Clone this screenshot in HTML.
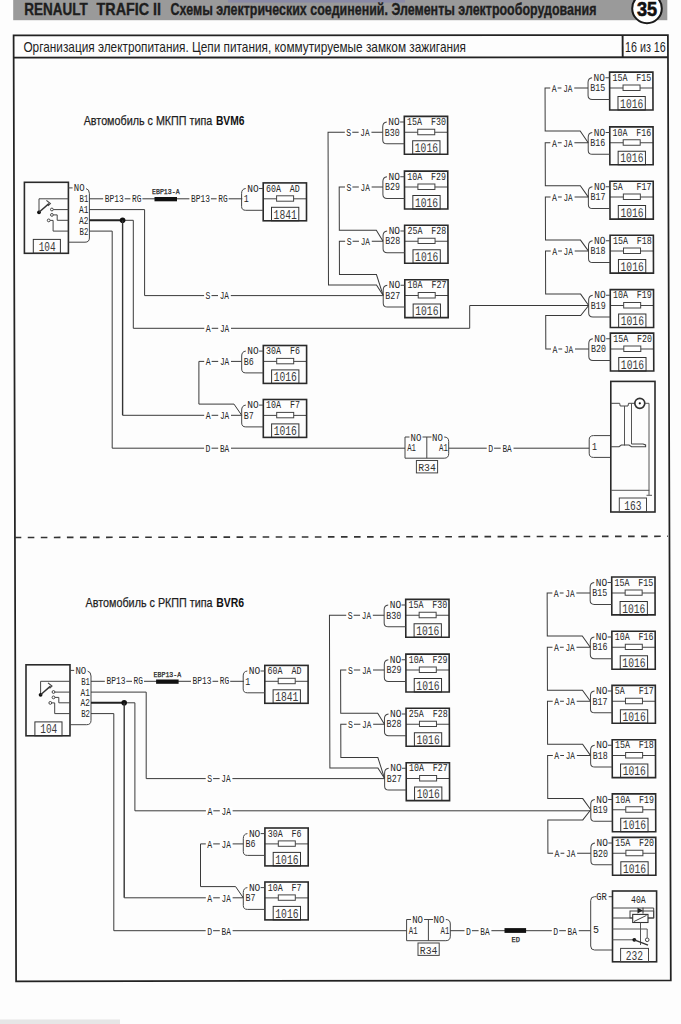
<!DOCTYPE html>
<html><head><meta charset="utf-8"><style>html,body{margin:0;padding:0;background:#fdfdfd;}body{width:681px;height:1024px;position:relative;overflow:hidden;font-family:"Liberation Sans", sans-serif;}</style></head><body>
<svg width="681" height="1024" viewBox="0 0 681 1024" style="position:absolute;left:0;top:0;font-family:'Liberation Sans', sans-serif">
<rect x="0" y="0" width="681" height="1024" fill="#fdfdfd"/>
<rect x="13.2" y="0" width="654.1" height="20.2" fill="#9a9a9a"/>
<rect x="228" y="0" width="177" height="2.6" fill="#8a8aa6"/>
<text x="24.3" y="15.2" font-size="16.2" font-weight="bold" fill="#1e1e1e" text-anchor="start" stroke="#1e1e1e" stroke-width="0.35" textLength="63.5" lengthAdjust="spacingAndGlyphs">RENAULT</text>
<text x="96.6" y="15.2" font-size="16.2" font-weight="bold" fill="#1e1e1e" text-anchor="start" stroke="#1e1e1e" stroke-width="0.35" textLength="64.5" lengthAdjust="spacingAndGlyphs">TRAFIC II</text>
<text x="170.6" y="15.2" font-size="16.2" font-weight="bold" fill="#1e1e1e" text-anchor="start" stroke="#1e1e1e" stroke-width="0.35" textLength="425.8" lengthAdjust="spacingAndGlyphs">Схемы электрических соединений. Элементы электрооборудования</text>
<circle cx="647" cy="8.4" r="14.8" fill="#fff" stroke="#1a1a1a" stroke-width="2"/>
<text x="636.9" y="16.4" font-size="20.5" font-weight="bold" fill="#111" text-anchor="start" stroke="#111" stroke-width="0.6" textLength="20.2" lengthAdjust="spacingAndGlyphs">35</text>
<polygon points="13.6,35.4 667.9,35.2 670.8,980.4 16.1,981.3" fill="none" stroke="#222" stroke-width="1.75"/>
<line x1="13.7" y1="57.6" x2="668" y2="57.3" stroke="#222" stroke-width="1.9"/>
<line x1="622.6" y1="35.3" x2="622.7" y2="57.5" stroke="#222" stroke-width="1.9"/>
<text x="23.4" y="52.2" font-size="14.2" font-weight="normal" fill="#1e1e1e" text-anchor="start" textLength="442.6" lengthAdjust="spacingAndGlyphs">Организация электропитания. Цепи питания, коммутируемые замком зажигания</text>
<text x="625" y="51.6" font-size="14.2" font-weight="normal" fill="#1e1e1e" text-anchor="start" textLength="40.8" lengthAdjust="spacingAndGlyphs">16 из 16</text>
<line x1="14.7" y1="537.5" x2="668" y2="536.3" stroke="#333" stroke-width="1.6" stroke-dasharray="6.6,6.45"/>
<text x="83.7" y="124.8" font-size="13.4" font-weight="normal" fill="#1e1e1e" text-anchor="start" stroke="#1e1e1e" stroke-width="0.25" textLength="128.6" lengthAdjust="spacingAndGlyphs">Автомобиль с МКПП типа</text>
<text x="215.9" y="124.8" font-size="13.4" font-weight="bold" fill="#111" text-anchor="start" textLength="28.6" lengthAdjust="spacingAndGlyphs">BVM6</text>
<rect x="24.4" y="182.3" width="44" height="71" fill="none" stroke="#2a2a2a" stroke-width="1.6"/>
<rect x="33.3" y="239.4" width="27.1" height="13.9" fill="none" stroke="#333" stroke-width="1"/>
<text x="47.2" y="250.9" font-size="13.23" font-weight="normal" fill="#3a3a3a" text-anchor="middle" textLength="17" lengthAdjust="spacingAndGlyphs" font-family="Liberation Mono">104</text>
<text x="73.8" y="191.3" font-size="10.6" font-weight="normal" fill="#262626" text-anchor="start" textLength="10.8" lengthAdjust="spacingAndGlyphs" font-family="Liberation Mono">NO</text>
<text x="79.6" y="202.2" font-size="10.6" font-weight="normal" fill="#262626" text-anchor="start" textLength="8.8" lengthAdjust="spacingAndGlyphs" font-family="Liberation Mono">B1</text>
<text x="79" y="213" font-size="10.6" font-weight="normal" fill="#262626" text-anchor="start" textLength="9.4" lengthAdjust="spacingAndGlyphs" font-family="Liberation Mono">A1</text>
<text x="79" y="223.7" font-size="10.6" font-weight="normal" fill="#262626" text-anchor="start" textLength="9.4" lengthAdjust="spacingAndGlyphs" font-family="Liberation Mono">A2</text>
<text x="79.6" y="234.5" font-size="10.6" font-weight="normal" fill="#262626" text-anchor="start" textLength="8.8" lengthAdjust="spacingAndGlyphs" font-family="Liberation Mono">B2</text>
<line x1="68.4" y1="187.9" x2="72.6" y2="187.9" stroke="#444" stroke-width="1"/>
<path d="M86,188.6 Q89.4,189.3 89.4,193.5 L89.4,238 Q89.4,242.2 85,242.2 L68.4,242.2" fill="none" stroke="#444" stroke-width="1"/>
<line x1="39" y1="198.8" x2="68.4" y2="198.8" stroke="#444" stroke-width="1"/>
<line x1="39" y1="198.8" x2="39" y2="212.3" stroke="#444" stroke-width="1"/>
<circle cx="39" cy="212.3" r="1.9" fill="#111"/>
<line x1="39" y1="212.3" x2="48.9" y2="203.6" stroke="#333" stroke-width="1.4"/>
<polyline points="46.4,200.4 50.4,203.6 48,205.8" fill="none" stroke="#444" stroke-width="1.1" stroke-linejoin="miter"/>
<circle cx="51.9" cy="209.5" r="1.4" fill="#fff" stroke="#444" stroke-width="1"/>
<line x1="53.3" y1="209.6" x2="68.4" y2="209.6" stroke="#444" stroke-width="1"/>
<circle cx="51.9" cy="214.9" r="1.4" fill="#fff" stroke="#444" stroke-width="1"/>
<polyline points="53.3,214.9 57.2,214.9 57.2,220.3 68.4,220.3" fill="none" stroke="#444" stroke-width="1" stroke-linejoin="miter"/>
<circle cx="48.7" cy="220.4" r="1.4" fill="#fff" stroke="#444" stroke-width="1"/>
<polyline points="50.1,220.4 53.1,220.4 53.1,231.1 68.4,231.1" fill="none" stroke="#444" stroke-width="1" stroke-linejoin="miter"/>
<line x1="89.4" y1="198.8" x2="242.3" y2="198.8" stroke="#3a3a3a" stroke-width="1"/>
<rect x="103.2" y="195.3" width="21.5" height="7" fill="#fff"/>
<text x="104.8" y="201.9" font-size="10.6" font-weight="normal" fill="#262626" text-anchor="start" textLength="19" lengthAdjust="spacingAndGlyphs" font-family="Liberation Mono">BP13</text>
<rect x="130.4" y="195.3" width="12" height="7" fill="#fff"/>
<text x="132" y="201.9" font-size="10.6" font-weight="normal" fill="#262626" text-anchor="start" textLength="9.4" lengthAdjust="spacingAndGlyphs" font-family="Liberation Mono">RG</text>
<rect x="189.4" y="195.3" width="21.5" height="7" fill="#fff"/>
<text x="191" y="201.9" font-size="10.6" font-weight="normal" fill="#262626" text-anchor="start" textLength="19" lengthAdjust="spacingAndGlyphs" font-family="Liberation Mono">BP13</text>
<rect x="216.6" y="195.3" width="12" height="7" fill="#fff"/>
<text x="218.2" y="201.9" font-size="10.6" font-weight="normal" fill="#262626" text-anchor="start" textLength="9.4" lengthAdjust="spacingAndGlyphs" font-family="Liberation Mono">RG</text>
<rect x="154.5" y="197" width="22.5" height="4.3" fill="#111"/>
<text x="152" y="194" font-size="7.6" font-weight="normal" fill="#222" text-anchor="start" stroke="#222" stroke-width="0.25" textLength="27.6" lengthAdjust="spacingAndGlyphs" font-family="Liberation Mono">EBP13-A</text>
<line x1="263.2" y1="198.8" x2="306.5" y2="198.8" stroke="#444" stroke-width="1"/>
<rect x="276.6" y="195.8" width="17" height="5.4" fill="#fff" stroke="#444" stroke-width="1"/>
<rect x="271.5" y="207.3" width="27.3" height="13.5" fill="none" stroke="#333" stroke-width="1"/>
<text x="285.2" y="218.5" font-size="13.23" font-weight="normal" fill="#3a3a3a" text-anchor="middle" textLength="23.2" lengthAdjust="spacingAndGlyphs" font-family="Liberation Mono">1841</text>
<rect x="263.2" y="182.9" width="43.3" height="37.9" fill="none" stroke="#2a2a2a" stroke-width="1.6"/>
<text x="266" y="191.6" font-size="10.81" font-weight="normal" fill="#262626" text-anchor="start" textLength="15" lengthAdjust="spacingAndGlyphs" font-family="Liberation Mono">60A</text>
<text x="289.8" y="191.6" font-size="10.81" font-weight="normal" fill="#262626" text-anchor="start" textLength="10" lengthAdjust="spacingAndGlyphs" font-family="Liberation Mono">AD</text>
<text x="247.2" y="191.6" font-size="10.81" font-weight="normal" fill="#262626" text-anchor="start" textLength="11.4" lengthAdjust="spacingAndGlyphs" font-family="Liberation Mono">NO</text>
<line x1="259" y1="188.5" x2="263.2" y2="188.5" stroke="#444" stroke-width="1"/>
<path d="M245.7,188.5 Q241.6,188.9 241.6,193.4 L241.6,206.4 Q241.6,210.3 245.7,210.3 L263.2,210.3" fill="none" stroke="#444" stroke-width="1"/>
<text x="243.7" y="202.1" font-size="10.81" font-weight="normal" fill="#262626" text-anchor="start" textLength="5" lengthAdjust="spacingAndGlyphs" font-family="Liberation Mono">1</text>
<polyline points="89.4,209.6 144.6,209.6 144.6,295.6 382.7,295.6" fill="none" stroke="#3a3a3a" stroke-width="1" stroke-linejoin="miter"/>
<rect x="204.1" y="291.8" width="7.4" height="7.6" fill="#fff"/>
<rect x="218" y="291.8" width="12.8" height="7.6" fill="#fff"/>
<text x="205.6" y="299.4" font-size="10.39" font-weight="normal" fill="#262626" text-anchor="start" textLength="4.9" lengthAdjust="spacingAndGlyphs" font-family="Liberation Mono">S</text>
<text x="219.7" y="299.4" font-size="10.39" font-weight="normal" fill="#262626" text-anchor="start" textLength="9.3" lengthAdjust="spacingAndGlyphs" font-family="Liberation Mono">JA</text>
<line x1="89.4" y1="220.3" x2="122.6" y2="220.3" stroke="#222" stroke-width="2"/>
<polyline points="122.6,220.3 133.3,220.3 133.3,328.3" fill="none" stroke="#3a3a3a" stroke-width="1" stroke-linejoin="miter"/>
<circle cx="122.6" cy="220.3" r="2.8" fill="#111"/>
<line x1="122.6" y1="220.3" x2="122.6" y2="415.3" stroke="#333" stroke-width="1.4"/>
<line x1="122.6" y1="415.3" x2="241.7" y2="415.3" stroke="#3a3a3a" stroke-width="1"/>
<rect x="204.2" y="411.5" width="7.4" height="7.6" fill="#fff"/>
<rect x="218.2" y="411.5" width="12.8" height="7.6" fill="#fff"/>
<text x="205.7" y="419.1" font-size="10.39" font-weight="normal" fill="#262626" text-anchor="start" textLength="4.9" lengthAdjust="spacingAndGlyphs" font-family="Liberation Mono">A</text>
<text x="219.9" y="419.1" font-size="10.39" font-weight="normal" fill="#262626" text-anchor="start" textLength="9.3" lengthAdjust="spacingAndGlyphs" font-family="Liberation Mono">JA</text>
<polyline points="241.7,361.4 198.9,361.4 198.9,404.1 234,404.1 241.7,415.3" fill="none" stroke="#3a3a3a" stroke-width="1" stroke-linejoin="miter"/>
<rect x="204.2" y="357.6" width="7.4" height="7.6" fill="#fff"/>
<rect x="218.2" y="357.6" width="12.8" height="7.6" fill="#fff"/>
<text x="205.7" y="365.2" font-size="10.39" font-weight="normal" fill="#262626" text-anchor="start" textLength="4.9" lengthAdjust="spacingAndGlyphs" font-family="Liberation Mono">A</text>
<text x="219.9" y="365.2" font-size="10.39" font-weight="normal" fill="#262626" text-anchor="start" textLength="9.3" lengthAdjust="spacingAndGlyphs" font-family="Liberation Mono">JA</text>
<line x1="263.3" y1="361.4" x2="306.6" y2="361.4" stroke="#444" stroke-width="1"/>
<rect x="276.7" y="358.4" width="17" height="5.4" fill="#fff" stroke="#444" stroke-width="1"/>
<rect x="271.6" y="369.9" width="27.3" height="13.5" fill="none" stroke="#333" stroke-width="1"/>
<text x="285.3" y="381.1" font-size="13.23" font-weight="normal" fill="#3a3a3a" text-anchor="middle" textLength="23.2" lengthAdjust="spacingAndGlyphs" font-family="Liberation Mono">1016</text>
<rect x="263.3" y="345.5" width="43.3" height="37.9" fill="none" stroke="#2a2a2a" stroke-width="1.6"/>
<text x="266.1" y="354.2" font-size="10.81" font-weight="normal" fill="#262626" text-anchor="start" textLength="15" lengthAdjust="spacingAndGlyphs" font-family="Liberation Mono">30A</text>
<text x="289.9" y="354.2" font-size="10.81" font-weight="normal" fill="#262626" text-anchor="start" textLength="10" lengthAdjust="spacingAndGlyphs" font-family="Liberation Mono">F6</text>
<text x="247.3" y="354.2" font-size="10.81" font-weight="normal" fill="#262626" text-anchor="start" textLength="11.4" lengthAdjust="spacingAndGlyphs" font-family="Liberation Mono">NO</text>
<line x1="259.1" y1="351.1" x2="263.3" y2="351.1" stroke="#444" stroke-width="1"/>
<path d="M245.8,351.1 Q241.7,351.5 241.7,356 L241.7,369 Q241.7,372.9 245.8,372.9 L263.3,372.9" fill="none" stroke="#444" stroke-width="1"/>
<text x="243.8" y="364.7" font-size="10.81" font-weight="normal" fill="#262626" text-anchor="start" textLength="10" lengthAdjust="spacingAndGlyphs" font-family="Liberation Mono">B6</text>
<line x1="263.3" y1="415.4" x2="306.6" y2="415.4" stroke="#444" stroke-width="1"/>
<rect x="276.7" y="412.4" width="17" height="5.4" fill="#fff" stroke="#444" stroke-width="1"/>
<rect x="271.6" y="423.9" width="27.3" height="13.5" fill="none" stroke="#333" stroke-width="1"/>
<text x="285.3" y="435.1" font-size="13.23" font-weight="normal" fill="#3a3a3a" text-anchor="middle" textLength="23.2" lengthAdjust="spacingAndGlyphs" font-family="Liberation Mono">1016</text>
<rect x="263.3" y="399.5" width="43.3" height="37.9" fill="none" stroke="#2a2a2a" stroke-width="1.6"/>
<text x="266.1" y="408.2" font-size="10.81" font-weight="normal" fill="#262626" text-anchor="start" textLength="15" lengthAdjust="spacingAndGlyphs" font-family="Liberation Mono">10A</text>
<text x="289.9" y="408.2" font-size="10.81" font-weight="normal" fill="#262626" text-anchor="start" textLength="10" lengthAdjust="spacingAndGlyphs" font-family="Liberation Mono">F7</text>
<text x="247.3" y="408.2" font-size="10.81" font-weight="normal" fill="#262626" text-anchor="start" textLength="11.4" lengthAdjust="spacingAndGlyphs" font-family="Liberation Mono">NO</text>
<line x1="259.1" y1="405.1" x2="263.3" y2="405.1" stroke="#444" stroke-width="1"/>
<path d="M245.8,405.1 Q241.7,405.5 241.7,410 L241.7,423 Q241.7,426.9 245.8,426.9 L263.3,426.9" fill="none" stroke="#444" stroke-width="1"/>
<text x="243.8" y="418.7" font-size="10.81" font-weight="normal" fill="#262626" text-anchor="start" textLength="10" lengthAdjust="spacingAndGlyphs" font-family="Liberation Mono">B7</text>
<polyline points="89.4,231.1 112.2,231.1 112.2,448.2 405,448.2" fill="none" stroke="#3a3a3a" stroke-width="1" stroke-linejoin="miter"/>
<rect x="204.1" y="444.4" width="7.4" height="7.6" fill="#fff"/>
<rect x="218.2" y="444.4" width="12.8" height="7.6" fill="#fff"/>
<text x="205.6" y="452" font-size="10.39" font-weight="normal" fill="#262626" text-anchor="start" textLength="4.9" lengthAdjust="spacingAndGlyphs" font-family="Liberation Mono">D</text>
<text x="219.9" y="452" font-size="10.39" font-weight="normal" fill="#262626" text-anchor="start" textLength="9.3" lengthAdjust="spacingAndGlyphs" font-family="Liberation Mono">BA</text>
<path d="M409.5,437 L405,437 L405,458.2 L444.2,458.2 Q448.7,458.2 448.7,453.7 L448.7,441.5 Q448.7,437 444.2,437" fill="none" stroke="#444" stroke-width="1"/>
<line x1="426.8" y1="437" x2="426.8" y2="458.2" stroke="#444" stroke-width="1"/>
<line x1="422.5" y1="437" x2="431.5" y2="437" stroke="#444" stroke-width="1"/>
<text x="410.6" y="440.6" font-size="10.6" font-weight="normal" fill="#262626" text-anchor="start" textLength="10.8" lengthAdjust="spacingAndGlyphs" font-family="Liberation Mono">NO</text>
<text x="432" y="440.6" font-size="10.6" font-weight="normal" fill="#262626" text-anchor="start" textLength="10.8" lengthAdjust="spacingAndGlyphs" font-family="Liberation Mono">NO</text>
<text x="407.2" y="451" font-size="10.6" font-weight="normal" fill="#262626" text-anchor="start" textLength="8.8" lengthAdjust="spacingAndGlyphs" font-family="Liberation Mono">A1</text>
<text x="439" y="451" font-size="10.6" font-weight="normal" fill="#262626" text-anchor="start" textLength="8.8" lengthAdjust="spacingAndGlyphs" font-family="Liberation Mono">A1</text>
<rect x="416.4" y="460.5" width="21.2" height="12.4" fill="none" stroke="#444" stroke-width="1"/>
<text x="427" y="471.3" font-size="11" font-weight="normal" fill="#333" text-anchor="middle" textLength="17.6" lengthAdjust="spacingAndGlyphs" font-family="Liberation Mono">R34</text>
<g transform="matrix(1,0,0.0029,1,-0.34,0)">
<line x1="404.3" y1="132.3" x2="447.6" y2="132.3" stroke="#444" stroke-width="1"/>
<rect x="417.7" y="129.3" width="17" height="5.4" fill="#fff" stroke="#444" stroke-width="1"/>
<rect x="412.6" y="140.8" width="27.3" height="13.5" fill="none" stroke="#333" stroke-width="1"/>
<text x="426.3" y="152" font-size="13.23" font-weight="normal" fill="#3a3a3a" text-anchor="middle" textLength="23.2" lengthAdjust="spacingAndGlyphs" font-family="Liberation Mono">1016</text>
<rect x="404.3" y="116.4" width="43.3" height="37.9" fill="none" stroke="#2a2a2a" stroke-width="1.6"/>
<text x="407.1" y="125.1" font-size="10.81" font-weight="normal" fill="#262626" text-anchor="start" textLength="15" lengthAdjust="spacingAndGlyphs" font-family="Liberation Mono">15A</text>
<text x="430.9" y="125.1" font-size="10.81" font-weight="normal" fill="#262626" text-anchor="start" textLength="15" lengthAdjust="spacingAndGlyphs" font-family="Liberation Mono">F30</text>
<text x="388.3" y="125.1" font-size="10.81" font-weight="normal" fill="#262626" text-anchor="start" textLength="11.4" lengthAdjust="spacingAndGlyphs" font-family="Liberation Mono">NO</text>
<line x1="400.1" y1="122" x2="404.3" y2="122" stroke="#444" stroke-width="1"/>
<path d="M386.8,122 Q382.7,122.4 382.7,126.9 L382.7,139.9 Q382.7,143.8 386.8,143.8 L404.3,143.8" fill="none" stroke="#444" stroke-width="1"/>
<text x="384.8" y="135.6" font-size="10.81" font-weight="normal" fill="#262626" text-anchor="start" textLength="15" lengthAdjust="spacingAndGlyphs" font-family="Liberation Mono">B30</text>
<line x1="404.3" y1="187" x2="447.6" y2="187" stroke="#444" stroke-width="1"/>
<rect x="417.7" y="184" width="17" height="5.4" fill="#fff" stroke="#444" stroke-width="1"/>
<rect x="412.6" y="195.5" width="27.3" height="13.5" fill="none" stroke="#333" stroke-width="1"/>
<text x="426.3" y="206.7" font-size="13.23" font-weight="normal" fill="#3a3a3a" text-anchor="middle" textLength="23.2" lengthAdjust="spacingAndGlyphs" font-family="Liberation Mono">1016</text>
<rect x="404.3" y="171.1" width="43.3" height="37.9" fill="none" stroke="#2a2a2a" stroke-width="1.6"/>
<text x="407.1" y="179.8" font-size="10.81" font-weight="normal" fill="#262626" text-anchor="start" textLength="15" lengthAdjust="spacingAndGlyphs" font-family="Liberation Mono">10A</text>
<text x="430.9" y="179.8" font-size="10.81" font-weight="normal" fill="#262626" text-anchor="start" textLength="15" lengthAdjust="spacingAndGlyphs" font-family="Liberation Mono">F29</text>
<text x="388.3" y="179.8" font-size="10.81" font-weight="normal" fill="#262626" text-anchor="start" textLength="11.4" lengthAdjust="spacingAndGlyphs" font-family="Liberation Mono">NO</text>
<line x1="400.1" y1="176.7" x2="404.3" y2="176.7" stroke="#444" stroke-width="1"/>
<path d="M386.8,176.7 Q382.7,177.1 382.7,181.6 L382.7,194.6 Q382.7,198.5 386.8,198.5 L404.3,198.5" fill="none" stroke="#444" stroke-width="1"/>
<text x="384.8" y="190.3" font-size="10.81" font-weight="normal" fill="#262626" text-anchor="start" textLength="15" lengthAdjust="spacingAndGlyphs" font-family="Liberation Mono">B29</text>
<line x1="404.3" y1="241.2" x2="447.6" y2="241.2" stroke="#444" stroke-width="1"/>
<rect x="417.7" y="238.2" width="17" height="5.4" fill="#fff" stroke="#444" stroke-width="1"/>
<rect x="412.6" y="249.7" width="27.3" height="13.5" fill="none" stroke="#333" stroke-width="1"/>
<text x="426.3" y="260.9" font-size="13.23" font-weight="normal" fill="#3a3a3a" text-anchor="middle" textLength="23.2" lengthAdjust="spacingAndGlyphs" font-family="Liberation Mono">1016</text>
<rect x="404.3" y="225.3" width="43.3" height="37.9" fill="none" stroke="#2a2a2a" stroke-width="1.6"/>
<text x="407.1" y="234" font-size="10.81" font-weight="normal" fill="#262626" text-anchor="start" textLength="15" lengthAdjust="spacingAndGlyphs" font-family="Liberation Mono">25A</text>
<text x="430.9" y="234" font-size="10.81" font-weight="normal" fill="#262626" text-anchor="start" textLength="15" lengthAdjust="spacingAndGlyphs" font-family="Liberation Mono">F28</text>
<text x="388.3" y="234" font-size="10.81" font-weight="normal" fill="#262626" text-anchor="start" textLength="11.4" lengthAdjust="spacingAndGlyphs" font-family="Liberation Mono">NO</text>
<line x1="400.1" y1="230.9" x2="404.3" y2="230.9" stroke="#444" stroke-width="1"/>
<path d="M386.8,230.9 Q382.7,231.3 382.7,235.8 L382.7,248.8 Q382.7,252.7 386.8,252.7 L404.3,252.7" fill="none" stroke="#444" stroke-width="1"/>
<text x="384.8" y="244.5" font-size="10.81" font-weight="normal" fill="#262626" text-anchor="start" textLength="15" lengthAdjust="spacingAndGlyphs" font-family="Liberation Mono">B28</text>
<line x1="404.3" y1="295.6" x2="447.6" y2="295.6" stroke="#444" stroke-width="1"/>
<rect x="417.7" y="292.6" width="17" height="5.4" fill="#fff" stroke="#444" stroke-width="1"/>
<rect x="412.6" y="304.1" width="27.3" height="13.5" fill="none" stroke="#333" stroke-width="1"/>
<text x="426.3" y="315.3" font-size="13.23" font-weight="normal" fill="#3a3a3a" text-anchor="middle" textLength="23.2" lengthAdjust="spacingAndGlyphs" font-family="Liberation Mono">1016</text>
<rect x="404.3" y="279.7" width="43.3" height="37.9" fill="none" stroke="#2a2a2a" stroke-width="1.6"/>
<text x="407.1" y="288.4" font-size="10.81" font-weight="normal" fill="#262626" text-anchor="start" textLength="15" lengthAdjust="spacingAndGlyphs" font-family="Liberation Mono">10A</text>
<text x="430.9" y="288.4" font-size="10.81" font-weight="normal" fill="#262626" text-anchor="start" textLength="15" lengthAdjust="spacingAndGlyphs" font-family="Liberation Mono">F27</text>
<text x="388.3" y="288.4" font-size="10.81" font-weight="normal" fill="#262626" text-anchor="start" textLength="11.4" lengthAdjust="spacingAndGlyphs" font-family="Liberation Mono">NO</text>
<line x1="400.1" y1="285.3" x2="404.3" y2="285.3" stroke="#444" stroke-width="1"/>
<path d="M386.8,285.3 Q382.7,285.7 382.7,290.2 L382.7,303.2 Q382.7,307.1 386.8,307.1 L404.3,307.1" fill="none" stroke="#444" stroke-width="1"/>
<text x="384.8" y="298.9" font-size="10.81" font-weight="normal" fill="#262626" text-anchor="start" textLength="15" lengthAdjust="spacingAndGlyphs" font-family="Liberation Mono">B27</text>
<polyline points="382.7,132.3 328,132.3 328,285 376,285 382.7,295.6" fill="none" stroke="#3a3a3a" stroke-width="1" stroke-linejoin="miter"/>
<polyline points="382.7,187 339,187 339,230.3 376,230.3 382.7,241.2" fill="none" stroke="#3a3a3a" stroke-width="1" stroke-linejoin="miter"/>
<polyline points="382.7,241.2 339,241.2 339,274.5 376,274.5 382.7,295.6" fill="none" stroke="#3a3a3a" stroke-width="1" stroke-linejoin="miter"/>
<rect x="344.8" y="128.5" width="7.4" height="7.6" fill="#fff"/>
<rect x="358.6" y="128.5" width="12.8" height="7.6" fill="#fff"/>
<text x="346.3" y="136.1" font-size="10.39" font-weight="normal" fill="#262626" text-anchor="start" textLength="4.9" lengthAdjust="spacingAndGlyphs" font-family="Liberation Mono">S</text>
<text x="360.3" y="136.1" font-size="10.39" font-weight="normal" fill="#262626" text-anchor="start" textLength="9.3" lengthAdjust="spacingAndGlyphs" font-family="Liberation Mono">JA</text>
<rect x="344.8" y="183.2" width="7.4" height="7.6" fill="#fff"/>
<rect x="358.6" y="183.2" width="12.8" height="7.6" fill="#fff"/>
<text x="346.3" y="190.8" font-size="10.39" font-weight="normal" fill="#262626" text-anchor="start" textLength="4.9" lengthAdjust="spacingAndGlyphs" font-family="Liberation Mono">S</text>
<text x="360.3" y="190.8" font-size="10.39" font-weight="normal" fill="#262626" text-anchor="start" textLength="9.3" lengthAdjust="spacingAndGlyphs" font-family="Liberation Mono">JA</text>
<rect x="344.8" y="237.4" width="7.4" height="7.6" fill="#fff"/>
<rect x="358.6" y="237.4" width="12.8" height="7.6" fill="#fff"/>
<text x="346.3" y="245" font-size="10.39" font-weight="normal" fill="#262626" text-anchor="start" textLength="4.9" lengthAdjust="spacingAndGlyphs" font-family="Liberation Mono">S</text>
<text x="360.3" y="245" font-size="10.39" font-weight="normal" fill="#262626" text-anchor="start" textLength="9.3" lengthAdjust="spacingAndGlyphs" font-family="Liberation Mono">JA</text>
</g>
<g transform="matrix(1,0,0.0029,1,-0.21,0)">
<line x1="609.6" y1="88" x2="652.9" y2="88" stroke="#444" stroke-width="1"/>
<rect x="623" y="85" width="17" height="5.4" fill="#fff" stroke="#444" stroke-width="1"/>
<rect x="617.9" y="96.5" width="27.3" height="13.5" fill="none" stroke="#333" stroke-width="1"/>
<text x="631.6" y="107.7" font-size="13.23" font-weight="normal" fill="#3a3a3a" text-anchor="middle" textLength="23.2" lengthAdjust="spacingAndGlyphs" font-family="Liberation Mono">1016</text>
<rect x="609.6" y="72.1" width="43.3" height="37.9" fill="none" stroke="#2a2a2a" stroke-width="1.6"/>
<text x="612.4" y="80.8" font-size="10.81" font-weight="normal" fill="#262626" text-anchor="start" textLength="15" lengthAdjust="spacingAndGlyphs" font-family="Liberation Mono">15A</text>
<text x="636.2" y="80.8" font-size="10.81" font-weight="normal" fill="#262626" text-anchor="start" textLength="15" lengthAdjust="spacingAndGlyphs" font-family="Liberation Mono">F15</text>
<text x="593.6" y="80.8" font-size="10.81" font-weight="normal" fill="#262626" text-anchor="start" textLength="11.4" lengthAdjust="spacingAndGlyphs" font-family="Liberation Mono">NO</text>
<line x1="605.4" y1="77.7" x2="609.6" y2="77.7" stroke="#444" stroke-width="1"/>
<path d="M592.1,77.7 Q588,78.1 588,82.6 L588,95.6 Q588,99.5 592.1,99.5 L609.6,99.5" fill="none" stroke="#444" stroke-width="1"/>
<text x="590.1" y="91.3" font-size="10.81" font-weight="normal" fill="#262626" text-anchor="start" textLength="15" lengthAdjust="spacingAndGlyphs" font-family="Liberation Mono">B15</text>
<line x1="609.6" y1="142.8" x2="652.9" y2="142.8" stroke="#444" stroke-width="1"/>
<rect x="623" y="139.8" width="17" height="5.4" fill="#fff" stroke="#444" stroke-width="1"/>
<rect x="617.9" y="151.3" width="27.3" height="13.5" fill="none" stroke="#333" stroke-width="1"/>
<text x="631.6" y="162.5" font-size="13.23" font-weight="normal" fill="#3a3a3a" text-anchor="middle" textLength="23.2" lengthAdjust="spacingAndGlyphs" font-family="Liberation Mono">1016</text>
<rect x="609.6" y="126.9" width="43.3" height="37.9" fill="none" stroke="#2a2a2a" stroke-width="1.6"/>
<text x="612.4" y="135.6" font-size="10.81" font-weight="normal" fill="#262626" text-anchor="start" textLength="15" lengthAdjust="spacingAndGlyphs" font-family="Liberation Mono">10A</text>
<text x="636.2" y="135.6" font-size="10.81" font-weight="normal" fill="#262626" text-anchor="start" textLength="15" lengthAdjust="spacingAndGlyphs" font-family="Liberation Mono">F16</text>
<text x="593.6" y="135.6" font-size="10.81" font-weight="normal" fill="#262626" text-anchor="start" textLength="11.4" lengthAdjust="spacingAndGlyphs" font-family="Liberation Mono">NO</text>
<line x1="605.4" y1="132.5" x2="609.6" y2="132.5" stroke="#444" stroke-width="1"/>
<path d="M592.1,132.5 Q588,132.9 588,137.4 L588,150.4 Q588,154.3 592.1,154.3 L609.6,154.3" fill="none" stroke="#444" stroke-width="1"/>
<text x="590.1" y="146.1" font-size="10.81" font-weight="normal" fill="#262626" text-anchor="start" textLength="15" lengthAdjust="spacingAndGlyphs" font-family="Liberation Mono">B16</text>
<line x1="609.6" y1="197.1" x2="652.9" y2="197.1" stroke="#444" stroke-width="1"/>
<rect x="623" y="194.1" width="17" height="5.4" fill="#fff" stroke="#444" stroke-width="1"/>
<rect x="617.9" y="205.6" width="27.3" height="13.5" fill="none" stroke="#333" stroke-width="1"/>
<text x="631.6" y="216.8" font-size="13.23" font-weight="normal" fill="#3a3a3a" text-anchor="middle" textLength="23.2" lengthAdjust="spacingAndGlyphs" font-family="Liberation Mono">1016</text>
<rect x="609.6" y="181.2" width="43.3" height="37.9" fill="none" stroke="#2a2a2a" stroke-width="1.6"/>
<text x="612.4" y="189.9" font-size="10.81" font-weight="normal" fill="#262626" text-anchor="start" textLength="10" lengthAdjust="spacingAndGlyphs" font-family="Liberation Mono">5A</text>
<text x="636.2" y="189.9" font-size="10.81" font-weight="normal" fill="#262626" text-anchor="start" textLength="15" lengthAdjust="spacingAndGlyphs" font-family="Liberation Mono">F17</text>
<text x="593.6" y="189.9" font-size="10.81" font-weight="normal" fill="#262626" text-anchor="start" textLength="11.4" lengthAdjust="spacingAndGlyphs" font-family="Liberation Mono">NO</text>
<line x1="605.4" y1="186.8" x2="609.6" y2="186.8" stroke="#444" stroke-width="1"/>
<path d="M592.1,186.8 Q588,187.2 588,191.7 L588,204.7 Q588,208.6 592.1,208.6 L609.6,208.6" fill="none" stroke="#444" stroke-width="1"/>
<text x="590.1" y="200.4" font-size="10.81" font-weight="normal" fill="#262626" text-anchor="start" textLength="15" lengthAdjust="spacingAndGlyphs" font-family="Liberation Mono">B17</text>
<line x1="609.6" y1="251.1" x2="652.9" y2="251.1" stroke="#444" stroke-width="1"/>
<rect x="623" y="248.1" width="17" height="5.4" fill="#fff" stroke="#444" stroke-width="1"/>
<rect x="617.9" y="259.6" width="27.3" height="13.5" fill="none" stroke="#333" stroke-width="1"/>
<text x="631.6" y="270.8" font-size="13.23" font-weight="normal" fill="#3a3a3a" text-anchor="middle" textLength="23.2" lengthAdjust="spacingAndGlyphs" font-family="Liberation Mono">1016</text>
<rect x="609.6" y="235.2" width="43.3" height="37.9" fill="none" stroke="#2a2a2a" stroke-width="1.6"/>
<text x="612.4" y="243.9" font-size="10.81" font-weight="normal" fill="#262626" text-anchor="start" textLength="15" lengthAdjust="spacingAndGlyphs" font-family="Liberation Mono">15A</text>
<text x="636.2" y="243.9" font-size="10.81" font-weight="normal" fill="#262626" text-anchor="start" textLength="15" lengthAdjust="spacingAndGlyphs" font-family="Liberation Mono">F18</text>
<text x="593.6" y="243.9" font-size="10.81" font-weight="normal" fill="#262626" text-anchor="start" textLength="11.4" lengthAdjust="spacingAndGlyphs" font-family="Liberation Mono">NO</text>
<line x1="605.4" y1="240.8" x2="609.6" y2="240.8" stroke="#444" stroke-width="1"/>
<path d="M592.1,240.8 Q588,241.2 588,245.7 L588,258.7 Q588,262.6 592.1,262.6 L609.6,262.6" fill="none" stroke="#444" stroke-width="1"/>
<text x="590.1" y="254.4" font-size="10.81" font-weight="normal" fill="#262626" text-anchor="start" textLength="15" lengthAdjust="spacingAndGlyphs" font-family="Liberation Mono">B18</text>
<line x1="609.6" y1="305.5" x2="652.9" y2="305.5" stroke="#444" stroke-width="1"/>
<rect x="623" y="302.5" width="17" height="5.4" fill="#fff" stroke="#444" stroke-width="1"/>
<rect x="617.9" y="314" width="27.3" height="13.5" fill="none" stroke="#333" stroke-width="1"/>
<text x="631.6" y="325.2" font-size="13.23" font-weight="normal" fill="#3a3a3a" text-anchor="middle" textLength="23.2" lengthAdjust="spacingAndGlyphs" font-family="Liberation Mono">1016</text>
<rect x="609.6" y="289.6" width="43.3" height="37.9" fill="none" stroke="#2a2a2a" stroke-width="1.6"/>
<text x="612.4" y="298.3" font-size="10.81" font-weight="normal" fill="#262626" text-anchor="start" textLength="15" lengthAdjust="spacingAndGlyphs" font-family="Liberation Mono">10A</text>
<text x="636.2" y="298.3" font-size="10.81" font-weight="normal" fill="#262626" text-anchor="start" textLength="15" lengthAdjust="spacingAndGlyphs" font-family="Liberation Mono">F19</text>
<text x="593.6" y="298.3" font-size="10.81" font-weight="normal" fill="#262626" text-anchor="start" textLength="11.4" lengthAdjust="spacingAndGlyphs" font-family="Liberation Mono">NO</text>
<line x1="605.4" y1="295.2" x2="609.6" y2="295.2" stroke="#444" stroke-width="1"/>
<path d="M592.1,295.2 Q588,295.6 588,300.1 L588,313.1 Q588,317 592.1,317 L609.6,317" fill="none" stroke="#444" stroke-width="1"/>
<text x="590.1" y="308.8" font-size="10.81" font-weight="normal" fill="#262626" text-anchor="start" textLength="15" lengthAdjust="spacingAndGlyphs" font-family="Liberation Mono">B19</text>
<line x1="609.6" y1="349" x2="652.9" y2="349" stroke="#444" stroke-width="1"/>
<rect x="623" y="346" width="17" height="5.4" fill="#fff" stroke="#444" stroke-width="1"/>
<rect x="617.9" y="357.5" width="27.3" height="13.5" fill="none" stroke="#333" stroke-width="1"/>
<text x="631.6" y="368.7" font-size="13.23" font-weight="normal" fill="#3a3a3a" text-anchor="middle" textLength="23.2" lengthAdjust="spacingAndGlyphs" font-family="Liberation Mono">1016</text>
<rect x="609.6" y="333.1" width="43.3" height="37.9" fill="none" stroke="#2a2a2a" stroke-width="1.6"/>
<text x="612.4" y="341.8" font-size="10.81" font-weight="normal" fill="#262626" text-anchor="start" textLength="15" lengthAdjust="spacingAndGlyphs" font-family="Liberation Mono">15A</text>
<text x="636.2" y="341.8" font-size="10.81" font-weight="normal" fill="#262626" text-anchor="start" textLength="15" lengthAdjust="spacingAndGlyphs" font-family="Liberation Mono">F20</text>
<text x="593.6" y="341.8" font-size="10.81" font-weight="normal" fill="#262626" text-anchor="start" textLength="11.4" lengthAdjust="spacingAndGlyphs" font-family="Liberation Mono">NO</text>
<line x1="605.4" y1="338.7" x2="609.6" y2="338.7" stroke="#444" stroke-width="1"/>
<path d="M592.1,338.7 Q588,339.1 588,343.6 L588,356.6 Q588,360.5 592.1,360.5 L609.6,360.5" fill="none" stroke="#444" stroke-width="1"/>
<text x="590.1" y="352.3" font-size="10.81" font-weight="normal" fill="#262626" text-anchor="start" textLength="15" lengthAdjust="spacingAndGlyphs" font-family="Liberation Mono">B20</text>
<polyline points="588,88 545,88 545,131 580,131 588,142.8" fill="none" stroke="#3a3a3a" stroke-width="1" stroke-linejoin="miter"/>
<rect x="550.2" y="84.2" width="7.4" height="7.6" fill="#fff"/>
<rect x="561.4" y="84.2" width="12.8" height="7.6" fill="#fff"/>
<text x="551.7" y="91.8" font-size="10.39" font-weight="normal" fill="#262626" text-anchor="start" textLength="4.9" lengthAdjust="spacingAndGlyphs" font-family="Liberation Mono">A</text>
<text x="563.1" y="91.8" font-size="10.39" font-weight="normal" fill="#262626" text-anchor="start" textLength="9.3" lengthAdjust="spacingAndGlyphs" font-family="Liberation Mono">JA</text>
<polyline points="588,142.8 545,142.8 545,185.8 580,185.8 588,197.1" fill="none" stroke="#3a3a3a" stroke-width="1" stroke-linejoin="miter"/>
<rect x="550.2" y="139" width="7.4" height="7.6" fill="#fff"/>
<rect x="561.4" y="139" width="12.8" height="7.6" fill="#fff"/>
<text x="551.7" y="146.6" font-size="10.39" font-weight="normal" fill="#262626" text-anchor="start" textLength="4.9" lengthAdjust="spacingAndGlyphs" font-family="Liberation Mono">A</text>
<text x="563.1" y="146.6" font-size="10.39" font-weight="normal" fill="#262626" text-anchor="start" textLength="9.3" lengthAdjust="spacingAndGlyphs" font-family="Liberation Mono">JA</text>
<polyline points="588,197.1 545,197.1 545,240.1 580,240.1 588,251.1" fill="none" stroke="#3a3a3a" stroke-width="1" stroke-linejoin="miter"/>
<rect x="550.2" y="193.3" width="7.4" height="7.6" fill="#fff"/>
<rect x="561.4" y="193.3" width="12.8" height="7.6" fill="#fff"/>
<text x="551.7" y="200.9" font-size="10.39" font-weight="normal" fill="#262626" text-anchor="start" textLength="4.9" lengthAdjust="spacingAndGlyphs" font-family="Liberation Mono">A</text>
<text x="563.1" y="200.9" font-size="10.39" font-weight="normal" fill="#262626" text-anchor="start" textLength="9.3" lengthAdjust="spacingAndGlyphs" font-family="Liberation Mono">JA</text>
<polyline points="588,251.1 545,251.1 545,294.1 580,294.1 588,305.5" fill="none" stroke="#3a3a3a" stroke-width="1" stroke-linejoin="miter"/>
<rect x="550.2" y="247.3" width="7.4" height="7.6" fill="#fff"/>
<rect x="561.4" y="247.3" width="12.8" height="7.6" fill="#fff"/>
<text x="551.7" y="254.9" font-size="10.39" font-weight="normal" fill="#262626" text-anchor="start" textLength="4.9" lengthAdjust="spacingAndGlyphs" font-family="Liberation Mono">A</text>
<text x="563.1" y="254.9" font-size="10.39" font-weight="normal" fill="#262626" text-anchor="start" textLength="9.3" lengthAdjust="spacingAndGlyphs" font-family="Liberation Mono">JA</text>
<polyline points="588,349 545,349 545,315.6 580,315.6 588,305.5" fill="none" stroke="#3a3a3a" stroke-width="1" stroke-linejoin="miter"/>
<rect x="550.2" y="345.2" width="7.4" height="7.6" fill="#fff"/>
<rect x="561.4" y="345.2" width="12.8" height="7.6" fill="#fff"/>
<text x="551.7" y="352.8" font-size="10.39" font-weight="normal" fill="#262626" text-anchor="start" textLength="4.9" lengthAdjust="spacingAndGlyphs" font-family="Liberation Mono">A</text>
<text x="563.1" y="352.8" font-size="10.39" font-weight="normal" fill="#262626" text-anchor="start" textLength="9.3" lengthAdjust="spacingAndGlyphs" font-family="Liberation Mono">JA</text>
</g>
<polyline points="133.3,328.3 469.7,328.3 469.7,305.5 588,305.5" fill="none" stroke="#3a3a3a" stroke-width="1" stroke-linejoin="miter"/>
<rect x="204.3" y="324.5" width="7.4" height="7.6" fill="#fff"/>
<rect x="218.2" y="324.5" width="12.8" height="7.6" fill="#fff"/>
<text x="205.8" y="332.1" font-size="10.39" font-weight="normal" fill="#262626" text-anchor="start" textLength="4.9" lengthAdjust="spacingAndGlyphs" font-family="Liberation Mono">A</text>
<text x="219.9" y="332.1" font-size="10.39" font-weight="normal" fill="#262626" text-anchor="start" textLength="9.3" lengthAdjust="spacingAndGlyphs" font-family="Liberation Mono">JA</text>
<line x1="448.7" y1="448.2" x2="589.2" y2="448.2" stroke="#3a3a3a" stroke-width="1"/>
<rect x="486.7" y="444.4" width="7.4" height="7.6" fill="#fff"/>
<rect x="500.7" y="444.4" width="12.8" height="7.6" fill="#fff"/>
<text x="488.2" y="452" font-size="10.39" font-weight="normal" fill="#262626" text-anchor="start" textLength="4.9" lengthAdjust="spacingAndGlyphs" font-family="Liberation Mono">D</text>
<text x="502.4" y="452" font-size="10.39" font-weight="normal" fill="#262626" text-anchor="start" textLength="9.3" lengthAdjust="spacingAndGlyphs" font-family="Liberation Mono">BA</text>
<path d="M610.8,435.6 L593.4,435.6 Q589.2,435.6 589.2,439.8 L589.2,453.2 Q589.2,457.4 593.4,457.4 L610.8,457.4" fill="none" stroke="#444" stroke-width="1"/>
<text x="592" y="450.4" font-size="10.6" font-weight="normal" fill="#262626" text-anchor="start" textLength="5" lengthAdjust="spacingAndGlyphs" font-family="Liberation Mono">1</text>
<rect x="610.8" y="381.4" width="44.2" height="130.6" fill="none" stroke="#2a2a2a" stroke-width="1.6"/>
<polyline points="610.8,403.3 619.7,403.3 620.2,406 628,406 628.5,403.3 634.5,403.3" fill="none" stroke="#444" stroke-width="1" stroke-linejoin="miter"/>
<circle cx="639.8" cy="403.3" r="5" fill="#fff" stroke="#333" stroke-width="1.7"/>
<circle cx="639.8" cy="403.3" r="1.1" fill="#111"/>
<line x1="644.8" y1="403.3" x2="649" y2="403.3" stroke="#555" stroke-width="1"/>
<line x1="649" y1="403.3" x2="649" y2="495.3" stroke="#555" stroke-width="1"/>
<line x1="624.5" y1="406" x2="624.5" y2="445.5" stroke="#555" stroke-width="1"/>
<line x1="631.5" y1="403.3" x2="631.5" y2="444" stroke="#555" stroke-width="1"/>
<polyline points="610.8,446.7 619,446.7 621.3,445 629,445 631.5,446.7 645.6,446.7 645.6,445 643,444 631.5,444" fill="none" stroke="#444" stroke-width="1.1" stroke-linejoin="miter"/>
<line x1="610.8" y1="490.3" x2="649.3" y2="490.3" stroke="#555" stroke-width="1"/>
<line x1="646.5" y1="495.3" x2="652" y2="495.3" stroke="#555" stroke-width="1"/>
<rect x="619.3" y="498" width="27.2" height="14" fill="none" stroke="#444" stroke-width="1"/>
<text x="632.9" y="509.8" font-size="13.23" font-weight="normal" fill="#3a3a3a" text-anchor="middle" textLength="17.3" lengthAdjust="spacingAndGlyphs" font-family="Liberation Mono">163</text>
<text x="85.6" y="606.8" font-size="13.4" font-weight="normal" fill="#1e1e1e" text-anchor="start" stroke="#1e1e1e" stroke-width="0.25" textLength="127" lengthAdjust="spacingAndGlyphs">Автомобиль с РКПП типа</text>
<text x="216.2" y="606.8" font-size="13.4" font-weight="bold" fill="#111" text-anchor="start" textLength="28" lengthAdjust="spacingAndGlyphs">BVR6</text>
<rect x="26" y="664.8" width="44" height="71" fill="none" stroke="#2a2a2a" stroke-width="1.6"/>
<rect x="34.9" y="721.9" width="27.1" height="13.9" fill="none" stroke="#333" stroke-width="1"/>
<text x="48.8" y="733.4" font-size="13.23" font-weight="normal" fill="#3a3a3a" text-anchor="middle" textLength="17" lengthAdjust="spacingAndGlyphs" font-family="Liberation Mono">104</text>
<text x="75.4" y="673.8" font-size="10.6" font-weight="normal" fill="#262626" text-anchor="start" textLength="10.8" lengthAdjust="spacingAndGlyphs" font-family="Liberation Mono">NO</text>
<text x="81.2" y="684.7" font-size="10.6" font-weight="normal" fill="#262626" text-anchor="start" textLength="8.8" lengthAdjust="spacingAndGlyphs" font-family="Liberation Mono">B1</text>
<text x="80.6" y="695.5" font-size="10.6" font-weight="normal" fill="#262626" text-anchor="start" textLength="9.4" lengthAdjust="spacingAndGlyphs" font-family="Liberation Mono">A1</text>
<text x="80.6" y="706.2" font-size="10.6" font-weight="normal" fill="#262626" text-anchor="start" textLength="9.4" lengthAdjust="spacingAndGlyphs" font-family="Liberation Mono">A2</text>
<text x="81.2" y="717" font-size="10.6" font-weight="normal" fill="#262626" text-anchor="start" textLength="8.8" lengthAdjust="spacingAndGlyphs" font-family="Liberation Mono">B2</text>
<line x1="70" y1="670.4" x2="74.2" y2="670.4" stroke="#444" stroke-width="1"/>
<path d="M87.6,671.1 Q91,671.8 91,676 L91,720.5 Q91,724.7 86.6,724.7 L70,724.7" fill="none" stroke="#444" stroke-width="1"/>
<line x1="40.6" y1="681.3" x2="70" y2="681.3" stroke="#444" stroke-width="1"/>
<line x1="40.6" y1="681.3" x2="40.6" y2="694.8" stroke="#444" stroke-width="1"/>
<circle cx="40.6" cy="694.8" r="1.9" fill="#111"/>
<line x1="40.6" y1="694.8" x2="50.5" y2="686.1" stroke="#333" stroke-width="1.4"/>
<polyline points="48,682.9 52,686.1 49.6,688.3" fill="none" stroke="#444" stroke-width="1.1" stroke-linejoin="miter"/>
<circle cx="53.5" cy="692" r="1.4" fill="#fff" stroke="#444" stroke-width="1"/>
<line x1="54.9" y1="692.1" x2="70" y2="692.1" stroke="#444" stroke-width="1"/>
<circle cx="53.5" cy="697.4" r="1.4" fill="#fff" stroke="#444" stroke-width="1"/>
<polyline points="54.9,697.4 58.8,697.4 58.8,702.8 70,702.8" fill="none" stroke="#444" stroke-width="1" stroke-linejoin="miter"/>
<circle cx="50.3" cy="702.9" r="1.4" fill="#fff" stroke="#444" stroke-width="1"/>
<polyline points="51.7,702.9 54.7,702.9 54.7,713.6 70,713.6" fill="none" stroke="#444" stroke-width="1" stroke-linejoin="miter"/>
<line x1="91" y1="681.3" x2="243.9" y2="681.3" stroke="#3a3a3a" stroke-width="1"/>
<rect x="104.8" y="677.8" width="21.5" height="7" fill="#fff"/>
<text x="106.4" y="684.4" font-size="10.6" font-weight="normal" fill="#262626" text-anchor="start" textLength="19" lengthAdjust="spacingAndGlyphs" font-family="Liberation Mono">BP13</text>
<rect x="132" y="677.8" width="12" height="7" fill="#fff"/>
<text x="133.6" y="684.4" font-size="10.6" font-weight="normal" fill="#262626" text-anchor="start" textLength="9.4" lengthAdjust="spacingAndGlyphs" font-family="Liberation Mono">RG</text>
<rect x="191" y="677.8" width="21.5" height="7" fill="#fff"/>
<text x="192.6" y="684.4" font-size="10.6" font-weight="normal" fill="#262626" text-anchor="start" textLength="19" lengthAdjust="spacingAndGlyphs" font-family="Liberation Mono">BP13</text>
<rect x="218.2" y="677.8" width="12" height="7" fill="#fff"/>
<text x="219.8" y="684.4" font-size="10.6" font-weight="normal" fill="#262626" text-anchor="start" textLength="9.4" lengthAdjust="spacingAndGlyphs" font-family="Liberation Mono">RG</text>
<rect x="156.1" y="679.5" width="22.5" height="4.3" fill="#111"/>
<text x="153.6" y="676.5" font-size="7.6" font-weight="normal" fill="#222" text-anchor="start" stroke="#222" stroke-width="0.25" textLength="27.6" lengthAdjust="spacingAndGlyphs" font-family="Liberation Mono">EBP13-A</text>
<line x1="264.8" y1="681.3" x2="308.1" y2="681.3" stroke="#444" stroke-width="1"/>
<rect x="278.2" y="678.3" width="17" height="5.4" fill="#fff" stroke="#444" stroke-width="1"/>
<rect x="273.1" y="689.8" width="27.3" height="13.5" fill="none" stroke="#333" stroke-width="1"/>
<text x="286.8" y="701" font-size="13.23" font-weight="normal" fill="#3a3a3a" text-anchor="middle" textLength="23.2" lengthAdjust="spacingAndGlyphs" font-family="Liberation Mono">1841</text>
<rect x="264.8" y="665.4" width="43.3" height="37.9" fill="none" stroke="#2a2a2a" stroke-width="1.6"/>
<text x="267.6" y="674.1" font-size="10.81" font-weight="normal" fill="#262626" text-anchor="start" textLength="15" lengthAdjust="spacingAndGlyphs" font-family="Liberation Mono">60A</text>
<text x="291.4" y="674.1" font-size="10.81" font-weight="normal" fill="#262626" text-anchor="start" textLength="10" lengthAdjust="spacingAndGlyphs" font-family="Liberation Mono">AD</text>
<text x="248.8" y="674.1" font-size="10.81" font-weight="normal" fill="#262626" text-anchor="start" textLength="11.4" lengthAdjust="spacingAndGlyphs" font-family="Liberation Mono">NO</text>
<line x1="260.6" y1="671" x2="264.8" y2="671" stroke="#444" stroke-width="1"/>
<path d="M247.3,671 Q243.2,671.4 243.2,675.9 L243.2,688.9 Q243.2,692.8 247.3,692.8 L264.8,692.8" fill="none" stroke="#444" stroke-width="1"/>
<text x="245.3" y="684.6" font-size="10.81" font-weight="normal" fill="#262626" text-anchor="start" textLength="5" lengthAdjust="spacingAndGlyphs" font-family="Liberation Mono">1</text>
<polyline points="91,692.1 146.2,692.1 146.2,778.6 384.1,778.6" fill="none" stroke="#3a3a3a" stroke-width="1" stroke-linejoin="miter"/>
<rect x="205.7" y="774.8" width="7.4" height="7.6" fill="#fff"/>
<rect x="219.6" y="774.8" width="12.8" height="7.6" fill="#fff"/>
<text x="207.2" y="782.4" font-size="10.39" font-weight="normal" fill="#262626" text-anchor="start" textLength="4.9" lengthAdjust="spacingAndGlyphs" font-family="Liberation Mono">S</text>
<text x="221.3" y="782.4" font-size="10.39" font-weight="normal" fill="#262626" text-anchor="start" textLength="9.3" lengthAdjust="spacingAndGlyphs" font-family="Liberation Mono">JA</text>
<line x1="91" y1="702.8" x2="124.2" y2="702.8" stroke="#222" stroke-width="2"/>
<polyline points="124.2,702.8 134.9,702.8 134.9,810.8" fill="none" stroke="#3a3a3a" stroke-width="1" stroke-linejoin="miter"/>
<circle cx="124.2" cy="702.8" r="2.8" fill="#111"/>
<line x1="124.2" y1="702.8" x2="124.2" y2="897.8" stroke="#333" stroke-width="1.4"/>
<line x1="124.2" y1="897.8" x2="243.3" y2="897.8" stroke="#3a3a3a" stroke-width="1"/>
<rect x="205.8" y="894" width="7.4" height="7.6" fill="#fff"/>
<rect x="219.8" y="894" width="12.8" height="7.6" fill="#fff"/>
<text x="207.3" y="901.6" font-size="10.39" font-weight="normal" fill="#262626" text-anchor="start" textLength="4.9" lengthAdjust="spacingAndGlyphs" font-family="Liberation Mono">A</text>
<text x="221.5" y="901.6" font-size="10.39" font-weight="normal" fill="#262626" text-anchor="start" textLength="9.3" lengthAdjust="spacingAndGlyphs" font-family="Liberation Mono">JA</text>
<polyline points="243.3,843.9 200.5,843.9 200.5,886.6 235.6,886.6 243.3,897.8" fill="none" stroke="#3a3a3a" stroke-width="1" stroke-linejoin="miter"/>
<rect x="205.8" y="840.1" width="7.4" height="7.6" fill="#fff"/>
<rect x="219.8" y="840.1" width="12.8" height="7.6" fill="#fff"/>
<text x="207.3" y="847.7" font-size="10.39" font-weight="normal" fill="#262626" text-anchor="start" textLength="4.9" lengthAdjust="spacingAndGlyphs" font-family="Liberation Mono">A</text>
<text x="221.5" y="847.7" font-size="10.39" font-weight="normal" fill="#262626" text-anchor="start" textLength="9.3" lengthAdjust="spacingAndGlyphs" font-family="Liberation Mono">JA</text>
<line x1="264.9" y1="843.9" x2="308.2" y2="843.9" stroke="#444" stroke-width="1"/>
<rect x="278.3" y="840.9" width="17" height="5.4" fill="#fff" stroke="#444" stroke-width="1"/>
<rect x="273.2" y="852.4" width="27.3" height="13.5" fill="none" stroke="#333" stroke-width="1"/>
<text x="286.9" y="863.6" font-size="13.23" font-weight="normal" fill="#3a3a3a" text-anchor="middle" textLength="23.2" lengthAdjust="spacingAndGlyphs" font-family="Liberation Mono">1016</text>
<rect x="264.9" y="828" width="43.3" height="37.9" fill="none" stroke="#2a2a2a" stroke-width="1.6"/>
<text x="267.7" y="836.7" font-size="10.81" font-weight="normal" fill="#262626" text-anchor="start" textLength="15" lengthAdjust="spacingAndGlyphs" font-family="Liberation Mono">30A</text>
<text x="291.5" y="836.7" font-size="10.81" font-weight="normal" fill="#262626" text-anchor="start" textLength="10" lengthAdjust="spacingAndGlyphs" font-family="Liberation Mono">F6</text>
<text x="248.9" y="836.7" font-size="10.81" font-weight="normal" fill="#262626" text-anchor="start" textLength="11.4" lengthAdjust="spacingAndGlyphs" font-family="Liberation Mono">NO</text>
<line x1="260.7" y1="833.6" x2="264.9" y2="833.6" stroke="#444" stroke-width="1"/>
<path d="M247.4,833.6 Q243.3,834 243.3,838.5 L243.3,851.5 Q243.3,855.4 247.4,855.4 L264.9,855.4" fill="none" stroke="#444" stroke-width="1"/>
<text x="245.4" y="847.2" font-size="10.81" font-weight="normal" fill="#262626" text-anchor="start" textLength="10" lengthAdjust="spacingAndGlyphs" font-family="Liberation Mono">B6</text>
<line x1="264.9" y1="897.9" x2="308.2" y2="897.9" stroke="#444" stroke-width="1"/>
<rect x="278.3" y="894.9" width="17" height="5.4" fill="#fff" stroke="#444" stroke-width="1"/>
<rect x="273.2" y="906.4" width="27.3" height="13.5" fill="none" stroke="#333" stroke-width="1"/>
<text x="286.9" y="917.6" font-size="13.23" font-weight="normal" fill="#3a3a3a" text-anchor="middle" textLength="23.2" lengthAdjust="spacingAndGlyphs" font-family="Liberation Mono">1016</text>
<rect x="264.9" y="882" width="43.3" height="37.9" fill="none" stroke="#2a2a2a" stroke-width="1.6"/>
<text x="267.7" y="890.7" font-size="10.81" font-weight="normal" fill="#262626" text-anchor="start" textLength="15" lengthAdjust="spacingAndGlyphs" font-family="Liberation Mono">10A</text>
<text x="291.5" y="890.7" font-size="10.81" font-weight="normal" fill="#262626" text-anchor="start" textLength="10" lengthAdjust="spacingAndGlyphs" font-family="Liberation Mono">F7</text>
<text x="248.9" y="890.7" font-size="10.81" font-weight="normal" fill="#262626" text-anchor="start" textLength="11.4" lengthAdjust="spacingAndGlyphs" font-family="Liberation Mono">NO</text>
<line x1="260.7" y1="887.6" x2="264.9" y2="887.6" stroke="#444" stroke-width="1"/>
<path d="M247.4,887.6 Q243.3,888 243.3,892.5 L243.3,905.5 Q243.3,909.4 247.4,909.4 L264.9,909.4" fill="none" stroke="#444" stroke-width="1"/>
<text x="245.4" y="901.2" font-size="10.81" font-weight="normal" fill="#262626" text-anchor="start" textLength="10" lengthAdjust="spacingAndGlyphs" font-family="Liberation Mono">B7</text>
<polyline points="91,713.6 113.8,713.6 113.8,930.7 406.6,930.7" fill="none" stroke="#3a3a3a" stroke-width="1" stroke-linejoin="miter"/>
<rect x="205.7" y="926.9" width="7.4" height="7.6" fill="#fff"/>
<rect x="219.8" y="926.9" width="12.8" height="7.6" fill="#fff"/>
<text x="207.2" y="934.5" font-size="10.39" font-weight="normal" fill="#262626" text-anchor="start" textLength="4.9" lengthAdjust="spacingAndGlyphs" font-family="Liberation Mono">D</text>
<text x="221.5" y="934.5" font-size="10.39" font-weight="normal" fill="#262626" text-anchor="start" textLength="9.3" lengthAdjust="spacingAndGlyphs" font-family="Liberation Mono">BA</text>
<path d="M411.1,919.5 L406.6,919.5 L406.6,940.7 L445.8,940.7 Q450.3,940.7 450.3,936.2 L450.3,924 Q450.3,919.5 445.8,919.5" fill="none" stroke="#444" stroke-width="1"/>
<line x1="428.4" y1="919.5" x2="428.4" y2="940.7" stroke="#444" stroke-width="1"/>
<line x1="424.1" y1="919.5" x2="433.1" y2="919.5" stroke="#444" stroke-width="1"/>
<text x="412.2" y="923.1" font-size="10.6" font-weight="normal" fill="#262626" text-anchor="start" textLength="10.8" lengthAdjust="spacingAndGlyphs" font-family="Liberation Mono">NO</text>
<text x="433.6" y="923.1" font-size="10.6" font-weight="normal" fill="#262626" text-anchor="start" textLength="10.8" lengthAdjust="spacingAndGlyphs" font-family="Liberation Mono">NO</text>
<text x="408.8" y="933.5" font-size="10.6" font-weight="normal" fill="#262626" text-anchor="start" textLength="8.8" lengthAdjust="spacingAndGlyphs" font-family="Liberation Mono">A1</text>
<text x="440.6" y="933.5" font-size="10.6" font-weight="normal" fill="#262626" text-anchor="start" textLength="8.8" lengthAdjust="spacingAndGlyphs" font-family="Liberation Mono">A1</text>
<rect x="418" y="943" width="21.2" height="12.4" fill="none" stroke="#444" stroke-width="1"/>
<text x="428.6" y="953.8" font-size="11" font-weight="normal" fill="#333" text-anchor="middle" textLength="17.6" lengthAdjust="spacingAndGlyphs" font-family="Liberation Mono">R34</text>
<g transform="matrix(1,0,0.0029,1,-1.74,0)">
<line x1="405.7" y1="615.3" x2="449" y2="615.3" stroke="#444" stroke-width="1"/>
<rect x="419.1" y="612.3" width="17" height="5.4" fill="#fff" stroke="#444" stroke-width="1"/>
<rect x="414" y="623.8" width="27.3" height="13.5" fill="none" stroke="#333" stroke-width="1"/>
<text x="427.7" y="635" font-size="13.23" font-weight="normal" fill="#3a3a3a" text-anchor="middle" textLength="23.2" lengthAdjust="spacingAndGlyphs" font-family="Liberation Mono">1016</text>
<rect x="405.7" y="599.4" width="43.3" height="37.9" fill="none" stroke="#2a2a2a" stroke-width="1.6"/>
<text x="408.5" y="608.1" font-size="10.81" font-weight="normal" fill="#262626" text-anchor="start" textLength="15" lengthAdjust="spacingAndGlyphs" font-family="Liberation Mono">15A</text>
<text x="432.3" y="608.1" font-size="10.81" font-weight="normal" fill="#262626" text-anchor="start" textLength="15" lengthAdjust="spacingAndGlyphs" font-family="Liberation Mono">F30</text>
<text x="389.7" y="608.1" font-size="10.81" font-weight="normal" fill="#262626" text-anchor="start" textLength="11.4" lengthAdjust="spacingAndGlyphs" font-family="Liberation Mono">NO</text>
<line x1="401.5" y1="605" x2="405.7" y2="605" stroke="#444" stroke-width="1"/>
<path d="M388.2,605 Q384.1,605.4 384.1,609.9 L384.1,622.9 Q384.1,626.8 388.2,626.8 L405.7,626.8" fill="none" stroke="#444" stroke-width="1"/>
<text x="386.2" y="618.6" font-size="10.81" font-weight="normal" fill="#262626" text-anchor="start" textLength="15" lengthAdjust="spacingAndGlyphs" font-family="Liberation Mono">B30</text>
<line x1="405.7" y1="670" x2="449" y2="670" stroke="#444" stroke-width="1"/>
<rect x="419.1" y="667" width="17" height="5.4" fill="#fff" stroke="#444" stroke-width="1"/>
<rect x="414" y="678.5" width="27.3" height="13.5" fill="none" stroke="#333" stroke-width="1"/>
<text x="427.7" y="689.7" font-size="13.23" font-weight="normal" fill="#3a3a3a" text-anchor="middle" textLength="23.2" lengthAdjust="spacingAndGlyphs" font-family="Liberation Mono">1016</text>
<rect x="405.7" y="654.1" width="43.3" height="37.9" fill="none" stroke="#2a2a2a" stroke-width="1.6"/>
<text x="408.5" y="662.8" font-size="10.81" font-weight="normal" fill="#262626" text-anchor="start" textLength="15" lengthAdjust="spacingAndGlyphs" font-family="Liberation Mono">10A</text>
<text x="432.3" y="662.8" font-size="10.81" font-weight="normal" fill="#262626" text-anchor="start" textLength="15" lengthAdjust="spacingAndGlyphs" font-family="Liberation Mono">F29</text>
<text x="389.7" y="662.8" font-size="10.81" font-weight="normal" fill="#262626" text-anchor="start" textLength="11.4" lengthAdjust="spacingAndGlyphs" font-family="Liberation Mono">NO</text>
<line x1="401.5" y1="659.7" x2="405.7" y2="659.7" stroke="#444" stroke-width="1"/>
<path d="M388.2,659.7 Q384.1,660.1 384.1,664.6 L384.1,677.6 Q384.1,681.5 388.2,681.5 L405.7,681.5" fill="none" stroke="#444" stroke-width="1"/>
<text x="386.2" y="673.3" font-size="10.81" font-weight="normal" fill="#262626" text-anchor="start" textLength="15" lengthAdjust="spacingAndGlyphs" font-family="Liberation Mono">B29</text>
<line x1="405.7" y1="724.2" x2="449" y2="724.2" stroke="#444" stroke-width="1"/>
<rect x="419.1" y="721.2" width="17" height="5.4" fill="#fff" stroke="#444" stroke-width="1"/>
<rect x="414" y="732.7" width="27.3" height="13.5" fill="none" stroke="#333" stroke-width="1"/>
<text x="427.7" y="743.9" font-size="13.23" font-weight="normal" fill="#3a3a3a" text-anchor="middle" textLength="23.2" lengthAdjust="spacingAndGlyphs" font-family="Liberation Mono">1016</text>
<rect x="405.7" y="708.3" width="43.3" height="37.9" fill="none" stroke="#2a2a2a" stroke-width="1.6"/>
<text x="408.5" y="717" font-size="10.81" font-weight="normal" fill="#262626" text-anchor="start" textLength="15" lengthAdjust="spacingAndGlyphs" font-family="Liberation Mono">25A</text>
<text x="432.3" y="717" font-size="10.81" font-weight="normal" fill="#262626" text-anchor="start" textLength="15" lengthAdjust="spacingAndGlyphs" font-family="Liberation Mono">F28</text>
<text x="389.7" y="717" font-size="10.81" font-weight="normal" fill="#262626" text-anchor="start" textLength="11.4" lengthAdjust="spacingAndGlyphs" font-family="Liberation Mono">NO</text>
<line x1="401.5" y1="713.9" x2="405.7" y2="713.9" stroke="#444" stroke-width="1"/>
<path d="M388.2,713.9 Q384.1,714.3 384.1,718.8 L384.1,731.8 Q384.1,735.7 388.2,735.7 L405.7,735.7" fill="none" stroke="#444" stroke-width="1"/>
<text x="386.2" y="727.5" font-size="10.81" font-weight="normal" fill="#262626" text-anchor="start" textLength="15" lengthAdjust="spacingAndGlyphs" font-family="Liberation Mono">B28</text>
<line x1="405.7" y1="778.6" x2="449" y2="778.6" stroke="#444" stroke-width="1"/>
<rect x="419.1" y="775.6" width="17" height="5.4" fill="#fff" stroke="#444" stroke-width="1"/>
<rect x="414" y="787.1" width="27.3" height="13.5" fill="none" stroke="#333" stroke-width="1"/>
<text x="427.7" y="798.3" font-size="13.23" font-weight="normal" fill="#3a3a3a" text-anchor="middle" textLength="23.2" lengthAdjust="spacingAndGlyphs" font-family="Liberation Mono">1016</text>
<rect x="405.7" y="762.7" width="43.3" height="37.9" fill="none" stroke="#2a2a2a" stroke-width="1.6"/>
<text x="408.5" y="771.4" font-size="10.81" font-weight="normal" fill="#262626" text-anchor="start" textLength="15" lengthAdjust="spacingAndGlyphs" font-family="Liberation Mono">10A</text>
<text x="432.3" y="771.4" font-size="10.81" font-weight="normal" fill="#262626" text-anchor="start" textLength="15" lengthAdjust="spacingAndGlyphs" font-family="Liberation Mono">F27</text>
<text x="389.7" y="771.4" font-size="10.81" font-weight="normal" fill="#262626" text-anchor="start" textLength="11.4" lengthAdjust="spacingAndGlyphs" font-family="Liberation Mono">NO</text>
<line x1="401.5" y1="768.3" x2="405.7" y2="768.3" stroke="#444" stroke-width="1"/>
<path d="M388.2,768.3 Q384.1,768.7 384.1,773.2 L384.1,786.2 Q384.1,790.1 388.2,790.1 L405.7,790.1" fill="none" stroke="#444" stroke-width="1"/>
<text x="386.2" y="781.9" font-size="10.81" font-weight="normal" fill="#262626" text-anchor="start" textLength="15" lengthAdjust="spacingAndGlyphs" font-family="Liberation Mono">B27</text>
<polyline points="384.1,615.3 329.4,615.3 329.4,768 377.4,768 384.1,778.6" fill="none" stroke="#3a3a3a" stroke-width="1" stroke-linejoin="miter"/>
<polyline points="384.1,670 340.4,670 340.4,713.3 377.4,713.3 384.1,724.2" fill="none" stroke="#3a3a3a" stroke-width="1" stroke-linejoin="miter"/>
<polyline points="384.1,724.2 340.4,724.2 340.4,757.5 377.4,757.5 384.1,778.6" fill="none" stroke="#3a3a3a" stroke-width="1" stroke-linejoin="miter"/>
<rect x="346.2" y="611.5" width="7.4" height="7.6" fill="#fff"/>
<rect x="360" y="611.5" width="12.8" height="7.6" fill="#fff"/>
<text x="347.7" y="619.1" font-size="10.39" font-weight="normal" fill="#262626" text-anchor="start" textLength="4.9" lengthAdjust="spacingAndGlyphs" font-family="Liberation Mono">S</text>
<text x="361.7" y="619.1" font-size="10.39" font-weight="normal" fill="#262626" text-anchor="start" textLength="9.3" lengthAdjust="spacingAndGlyphs" font-family="Liberation Mono">JA</text>
<rect x="346.2" y="666.2" width="7.4" height="7.6" fill="#fff"/>
<rect x="360" y="666.2" width="12.8" height="7.6" fill="#fff"/>
<text x="347.7" y="673.8" font-size="10.39" font-weight="normal" fill="#262626" text-anchor="start" textLength="4.9" lengthAdjust="spacingAndGlyphs" font-family="Liberation Mono">S</text>
<text x="361.7" y="673.8" font-size="10.39" font-weight="normal" fill="#262626" text-anchor="start" textLength="9.3" lengthAdjust="spacingAndGlyphs" font-family="Liberation Mono">JA</text>
<rect x="346.2" y="720.4" width="7.4" height="7.6" fill="#fff"/>
<rect x="360" y="720.4" width="12.8" height="7.6" fill="#fff"/>
<text x="347.7" y="728" font-size="10.39" font-weight="normal" fill="#262626" text-anchor="start" textLength="4.9" lengthAdjust="spacingAndGlyphs" font-family="Liberation Mono">S</text>
<text x="361.7" y="728" font-size="10.39" font-weight="normal" fill="#262626" text-anchor="start" textLength="9.3" lengthAdjust="spacingAndGlyphs" font-family="Liberation Mono">JA</text>
</g>
<g transform="matrix(1,0,0.0029,1,-1.67,0)">
<line x1="611.7" y1="592.9" x2="655" y2="592.9" stroke="#444" stroke-width="1"/>
<rect x="625.1" y="589.9" width="17" height="5.4" fill="#fff" stroke="#444" stroke-width="1"/>
<rect x="620" y="601.4" width="27.3" height="13.5" fill="none" stroke="#333" stroke-width="1"/>
<text x="633.7" y="612.6" font-size="13.23" font-weight="normal" fill="#3a3a3a" text-anchor="middle" textLength="23.2" lengthAdjust="spacingAndGlyphs" font-family="Liberation Mono">1016</text>
<rect x="611.7" y="577" width="43.3" height="37.9" fill="none" stroke="#2a2a2a" stroke-width="1.6"/>
<text x="614.5" y="585.7" font-size="10.81" font-weight="normal" fill="#262626" text-anchor="start" textLength="15" lengthAdjust="spacingAndGlyphs" font-family="Liberation Mono">15A</text>
<text x="638.3" y="585.7" font-size="10.81" font-weight="normal" fill="#262626" text-anchor="start" textLength="15" lengthAdjust="spacingAndGlyphs" font-family="Liberation Mono">F15</text>
<text x="595.7" y="585.7" font-size="10.81" font-weight="normal" fill="#262626" text-anchor="start" textLength="11.4" lengthAdjust="spacingAndGlyphs" font-family="Liberation Mono">NO</text>
<line x1="607.5" y1="582.6" x2="611.7" y2="582.6" stroke="#444" stroke-width="1"/>
<path d="M594.2,582.6 Q590.1,583 590.1,587.5 L590.1,600.5 Q590.1,604.4 594.2,604.4 L611.7,604.4" fill="none" stroke="#444" stroke-width="1"/>
<text x="592.2" y="596.2" font-size="10.81" font-weight="normal" fill="#262626" text-anchor="start" textLength="15" lengthAdjust="spacingAndGlyphs" font-family="Liberation Mono">B15</text>
<line x1="611.7" y1="647.2" x2="655" y2="647.2" stroke="#444" stroke-width="1"/>
<rect x="625.1" y="644.2" width="17" height="5.4" fill="#fff" stroke="#444" stroke-width="1"/>
<rect x="620" y="655.7" width="27.3" height="13.5" fill="none" stroke="#333" stroke-width="1"/>
<text x="633.7" y="666.9" font-size="13.23" font-weight="normal" fill="#3a3a3a" text-anchor="middle" textLength="23.2" lengthAdjust="spacingAndGlyphs" font-family="Liberation Mono">1016</text>
<rect x="611.7" y="631.3" width="43.3" height="37.9" fill="none" stroke="#2a2a2a" stroke-width="1.6"/>
<text x="614.5" y="640" font-size="10.81" font-weight="normal" fill="#262626" text-anchor="start" textLength="15" lengthAdjust="spacingAndGlyphs" font-family="Liberation Mono">10A</text>
<text x="638.3" y="640" font-size="10.81" font-weight="normal" fill="#262626" text-anchor="start" textLength="15" lengthAdjust="spacingAndGlyphs" font-family="Liberation Mono">F16</text>
<text x="595.7" y="640" font-size="10.81" font-weight="normal" fill="#262626" text-anchor="start" textLength="11.4" lengthAdjust="spacingAndGlyphs" font-family="Liberation Mono">NO</text>
<line x1="607.5" y1="636.9" x2="611.7" y2="636.9" stroke="#444" stroke-width="1"/>
<path d="M594.2,636.9 Q590.1,637.3 590.1,641.8 L590.1,654.8 Q590.1,658.7 594.2,658.7 L611.7,658.7" fill="none" stroke="#444" stroke-width="1"/>
<text x="592.2" y="650.5" font-size="10.81" font-weight="normal" fill="#262626" text-anchor="start" textLength="15" lengthAdjust="spacingAndGlyphs" font-family="Liberation Mono">B16</text>
<line x1="611.7" y1="701.3" x2="655" y2="701.3" stroke="#444" stroke-width="1"/>
<rect x="625.1" y="698.3" width="17" height="5.4" fill="#fff" stroke="#444" stroke-width="1"/>
<rect x="620" y="709.8" width="27.3" height="13.5" fill="none" stroke="#333" stroke-width="1"/>
<text x="633.7" y="721" font-size="13.23" font-weight="normal" fill="#3a3a3a" text-anchor="middle" textLength="23.2" lengthAdjust="spacingAndGlyphs" font-family="Liberation Mono">1016</text>
<rect x="611.7" y="685.4" width="43.3" height="37.9" fill="none" stroke="#2a2a2a" stroke-width="1.6"/>
<text x="614.5" y="694.1" font-size="10.81" font-weight="normal" fill="#262626" text-anchor="start" textLength="10" lengthAdjust="spacingAndGlyphs" font-family="Liberation Mono">5A</text>
<text x="638.3" y="694.1" font-size="10.81" font-weight="normal" fill="#262626" text-anchor="start" textLength="15" lengthAdjust="spacingAndGlyphs" font-family="Liberation Mono">F17</text>
<text x="595.7" y="694.1" font-size="10.81" font-weight="normal" fill="#262626" text-anchor="start" textLength="11.4" lengthAdjust="spacingAndGlyphs" font-family="Liberation Mono">NO</text>
<line x1="607.5" y1="691" x2="611.7" y2="691" stroke="#444" stroke-width="1"/>
<path d="M594.2,691 Q590.1,691.4 590.1,695.9 L590.1,708.9 Q590.1,712.8 594.2,712.8 L611.7,712.8" fill="none" stroke="#444" stroke-width="1"/>
<text x="592.2" y="704.6" font-size="10.81" font-weight="normal" fill="#262626" text-anchor="start" textLength="15" lengthAdjust="spacingAndGlyphs" font-family="Liberation Mono">B17</text>
<line x1="611.7" y1="755.6" x2="655" y2="755.6" stroke="#444" stroke-width="1"/>
<rect x="625.1" y="752.6" width="17" height="5.4" fill="#fff" stroke="#444" stroke-width="1"/>
<rect x="620" y="764.1" width="27.3" height="13.5" fill="none" stroke="#333" stroke-width="1"/>
<text x="633.7" y="775.3" font-size="13.23" font-weight="normal" fill="#3a3a3a" text-anchor="middle" textLength="23.2" lengthAdjust="spacingAndGlyphs" font-family="Liberation Mono">1016</text>
<rect x="611.7" y="739.7" width="43.3" height="37.9" fill="none" stroke="#2a2a2a" stroke-width="1.6"/>
<text x="614.5" y="748.4" font-size="10.81" font-weight="normal" fill="#262626" text-anchor="start" textLength="15" lengthAdjust="spacingAndGlyphs" font-family="Liberation Mono">15A</text>
<text x="638.3" y="748.4" font-size="10.81" font-weight="normal" fill="#262626" text-anchor="start" textLength="15" lengthAdjust="spacingAndGlyphs" font-family="Liberation Mono">F18</text>
<text x="595.7" y="748.4" font-size="10.81" font-weight="normal" fill="#262626" text-anchor="start" textLength="11.4" lengthAdjust="spacingAndGlyphs" font-family="Liberation Mono">NO</text>
<line x1="607.5" y1="745.3" x2="611.7" y2="745.3" stroke="#444" stroke-width="1"/>
<path d="M594.2,745.3 Q590.1,745.7 590.1,750.2 L590.1,763.2 Q590.1,767.1 594.2,767.1 L611.7,767.1" fill="none" stroke="#444" stroke-width="1"/>
<text x="592.2" y="758.9" font-size="10.81" font-weight="normal" fill="#262626" text-anchor="start" textLength="15" lengthAdjust="spacingAndGlyphs" font-family="Liberation Mono">B18</text>
<line x1="611.7" y1="809.8" x2="655" y2="809.8" stroke="#444" stroke-width="1"/>
<rect x="625.1" y="806.8" width="17" height="5.4" fill="#fff" stroke="#444" stroke-width="1"/>
<rect x="620" y="818.3" width="27.3" height="13.5" fill="none" stroke="#333" stroke-width="1"/>
<text x="633.7" y="829.5" font-size="13.23" font-weight="normal" fill="#3a3a3a" text-anchor="middle" textLength="23.2" lengthAdjust="spacingAndGlyphs" font-family="Liberation Mono">1016</text>
<rect x="611.7" y="793.9" width="43.3" height="37.9" fill="none" stroke="#2a2a2a" stroke-width="1.6"/>
<text x="614.5" y="802.6" font-size="10.81" font-weight="normal" fill="#262626" text-anchor="start" textLength="15" lengthAdjust="spacingAndGlyphs" font-family="Liberation Mono">10A</text>
<text x="638.3" y="802.6" font-size="10.81" font-weight="normal" fill="#262626" text-anchor="start" textLength="15" lengthAdjust="spacingAndGlyphs" font-family="Liberation Mono">F19</text>
<text x="595.7" y="802.6" font-size="10.81" font-weight="normal" fill="#262626" text-anchor="start" textLength="11.4" lengthAdjust="spacingAndGlyphs" font-family="Liberation Mono">NO</text>
<line x1="607.5" y1="799.5" x2="611.7" y2="799.5" stroke="#444" stroke-width="1"/>
<path d="M594.2,799.5 Q590.1,799.9 590.1,804.4 L590.1,817.4 Q590.1,821.3 594.2,821.3 L611.7,821.3" fill="none" stroke="#444" stroke-width="1"/>
<text x="592.2" y="813.1" font-size="10.81" font-weight="normal" fill="#262626" text-anchor="start" textLength="15" lengthAdjust="spacingAndGlyphs" font-family="Liberation Mono">B19</text>
<line x1="611.7" y1="853.3" x2="655" y2="853.3" stroke="#444" stroke-width="1"/>
<rect x="625.1" y="850.3" width="17" height="5.4" fill="#fff" stroke="#444" stroke-width="1"/>
<rect x="620" y="861.8" width="27.3" height="13.5" fill="none" stroke="#333" stroke-width="1"/>
<text x="633.7" y="873" font-size="13.23" font-weight="normal" fill="#3a3a3a" text-anchor="middle" textLength="23.2" lengthAdjust="spacingAndGlyphs" font-family="Liberation Mono">1016</text>
<rect x="611.7" y="837.4" width="43.3" height="37.9" fill="none" stroke="#2a2a2a" stroke-width="1.6"/>
<text x="614.5" y="846.1" font-size="10.81" font-weight="normal" fill="#262626" text-anchor="start" textLength="15" lengthAdjust="spacingAndGlyphs" font-family="Liberation Mono">15A</text>
<text x="638.3" y="846.1" font-size="10.81" font-weight="normal" fill="#262626" text-anchor="start" textLength="15" lengthAdjust="spacingAndGlyphs" font-family="Liberation Mono">F20</text>
<text x="595.7" y="846.1" font-size="10.81" font-weight="normal" fill="#262626" text-anchor="start" textLength="11.4" lengthAdjust="spacingAndGlyphs" font-family="Liberation Mono">NO</text>
<line x1="607.5" y1="843" x2="611.7" y2="843" stroke="#444" stroke-width="1"/>
<path d="M594.2,843 Q590.1,843.4 590.1,847.9 L590.1,860.9 Q590.1,864.8 594.2,864.8 L611.7,864.8" fill="none" stroke="#444" stroke-width="1"/>
<text x="592.2" y="856.6" font-size="10.81" font-weight="normal" fill="#262626" text-anchor="start" textLength="15" lengthAdjust="spacingAndGlyphs" font-family="Liberation Mono">B20</text>
<polyline points="590.1,592.9 547.1,592.9 547.1,635.9 582.1,635.9 590.1,647.2" fill="none" stroke="#3a3a3a" stroke-width="1" stroke-linejoin="miter"/>
<rect x="552.3" y="589.1" width="7.4" height="7.6" fill="#fff"/>
<rect x="563.5" y="589.1" width="12.8" height="7.6" fill="#fff"/>
<text x="553.8" y="596.7" font-size="10.39" font-weight="normal" fill="#262626" text-anchor="start" textLength="4.9" lengthAdjust="spacingAndGlyphs" font-family="Liberation Mono">A</text>
<text x="565.2" y="596.7" font-size="10.39" font-weight="normal" fill="#262626" text-anchor="start" textLength="9.3" lengthAdjust="spacingAndGlyphs" font-family="Liberation Mono">JA</text>
<polyline points="590.1,647.2 547.1,647.2 547.1,690.2 582.1,690.2 590.1,701.3" fill="none" stroke="#3a3a3a" stroke-width="1" stroke-linejoin="miter"/>
<rect x="552.3" y="643.4" width="7.4" height="7.6" fill="#fff"/>
<rect x="563.5" y="643.4" width="12.8" height="7.6" fill="#fff"/>
<text x="553.8" y="651" font-size="10.39" font-weight="normal" fill="#262626" text-anchor="start" textLength="4.9" lengthAdjust="spacingAndGlyphs" font-family="Liberation Mono">A</text>
<text x="565.2" y="651" font-size="10.39" font-weight="normal" fill="#262626" text-anchor="start" textLength="9.3" lengthAdjust="spacingAndGlyphs" font-family="Liberation Mono">JA</text>
<polyline points="590.1,701.3 547.1,701.3 547.1,744.3 582.1,744.3 590.1,755.6" fill="none" stroke="#3a3a3a" stroke-width="1" stroke-linejoin="miter"/>
<rect x="552.3" y="697.5" width="7.4" height="7.6" fill="#fff"/>
<rect x="563.5" y="697.5" width="12.8" height="7.6" fill="#fff"/>
<text x="553.8" y="705.1" font-size="10.39" font-weight="normal" fill="#262626" text-anchor="start" textLength="4.9" lengthAdjust="spacingAndGlyphs" font-family="Liberation Mono">A</text>
<text x="565.2" y="705.1" font-size="10.39" font-weight="normal" fill="#262626" text-anchor="start" textLength="9.3" lengthAdjust="spacingAndGlyphs" font-family="Liberation Mono">JA</text>
<polyline points="590.1,755.6 547.1,755.6 547.1,798.6 582.1,798.6 590.1,809.8" fill="none" stroke="#3a3a3a" stroke-width="1" stroke-linejoin="miter"/>
<rect x="552.3" y="751.8" width="7.4" height="7.6" fill="#fff"/>
<rect x="563.5" y="751.8" width="12.8" height="7.6" fill="#fff"/>
<text x="553.8" y="759.4" font-size="10.39" font-weight="normal" fill="#262626" text-anchor="start" textLength="4.9" lengthAdjust="spacingAndGlyphs" font-family="Liberation Mono">A</text>
<text x="565.2" y="759.4" font-size="10.39" font-weight="normal" fill="#262626" text-anchor="start" textLength="9.3" lengthAdjust="spacingAndGlyphs" font-family="Liberation Mono">JA</text>
<polyline points="590.1,853.3 547.1,853.3 547.1,819.9 582.1,819.9 590.1,809.8" fill="none" stroke="#3a3a3a" stroke-width="1" stroke-linejoin="miter"/>
<rect x="552.3" y="849.5" width="7.4" height="7.6" fill="#fff"/>
<rect x="563.5" y="849.5" width="12.8" height="7.6" fill="#fff"/>
<text x="553.8" y="857.1" font-size="10.39" font-weight="normal" fill="#262626" text-anchor="start" textLength="4.9" lengthAdjust="spacingAndGlyphs" font-family="Liberation Mono">A</text>
<text x="565.2" y="857.1" font-size="10.39" font-weight="normal" fill="#262626" text-anchor="start" textLength="9.3" lengthAdjust="spacingAndGlyphs" font-family="Liberation Mono">JA</text>
</g>
<line x1="134.9" y1="810.8" x2="590.1" y2="810.8" stroke="#3a3a3a" stroke-width="1"/>
<rect x="205.9" y="807" width="7.4" height="7.6" fill="#fff"/>
<rect x="219.8" y="807" width="12.8" height="7.6" fill="#fff"/>
<text x="207.4" y="814.6" font-size="10.39" font-weight="normal" fill="#262626" text-anchor="start" textLength="4.9" lengthAdjust="spacingAndGlyphs" font-family="Liberation Mono">A</text>
<text x="221.5" y="814.6" font-size="10.39" font-weight="normal" fill="#262626" text-anchor="start" textLength="9.3" lengthAdjust="spacingAndGlyphs" font-family="Liberation Mono">JA</text>
<line x1="450.3" y1="930.7" x2="590.7" y2="930.7" stroke="#3a3a3a" stroke-width="1"/>
<rect x="464.5" y="926.9" width="7.4" height="7.6" fill="#fff"/>
<rect x="478.6" y="926.9" width="12.8" height="7.6" fill="#fff"/>
<text x="466" y="934.5" font-size="10.39" font-weight="normal" fill="#262626" text-anchor="start" textLength="4.9" lengthAdjust="spacingAndGlyphs" font-family="Liberation Mono">D</text>
<text x="480.3" y="934.5" font-size="10.39" font-weight="normal" fill="#262626" text-anchor="start" textLength="9.3" lengthAdjust="spacingAndGlyphs" font-family="Liberation Mono">BA</text>
<rect x="504.5" y="928.1" width="21.6" height="4.8" fill="#111"/>
<text x="511.6" y="941.7" font-size="7.6" font-weight="normal" fill="#222" text-anchor="start" stroke="#222" stroke-width="0.25" textLength="8.4" lengthAdjust="spacingAndGlyphs" font-family="Liberation Mono">ED</text>
<rect x="551.8" y="926.9" width="7.4" height="7.6" fill="#fff"/>
<rect x="565.9" y="926.9" width="12.8" height="7.6" fill="#fff"/>
<text x="553.3" y="934.5" font-size="10.39" font-weight="normal" fill="#262626" text-anchor="start" textLength="4.9" lengthAdjust="spacingAndGlyphs" font-family="Liberation Mono">D</text>
<text x="567.6" y="934.5" font-size="10.39" font-weight="normal" fill="#262626" text-anchor="start" textLength="9.3" lengthAdjust="spacingAndGlyphs" font-family="Liberation Mono">BA</text>
<path d="M596.5,896.7 L594.5,896.7 Q590.7,896.7 590.7,900.5 L590.7,946 Q590.7,950 594.5,950 L612.5,950" fill="none" stroke="#444" stroke-width="1"/>
<line x1="608.7" y1="896.7" x2="612.5" y2="896.7" stroke="#444" stroke-width="1"/>
<text x="596.3" y="900.2" font-size="10.6" font-weight="normal" fill="#262626" text-anchor="start" textLength="10.6" lengthAdjust="spacingAndGlyphs" font-family="Liberation Mono">GR</text>
<text x="593" y="933" font-size="10.6" font-weight="normal" fill="#262626" text-anchor="start" textLength="6" lengthAdjust="spacingAndGlyphs" font-family="Liberation Mono">5</text>
<rect x="612.5" y="891" width="44.1" height="70.8" fill="none" stroke="#2a2a2a" stroke-width="1.6"/>
<text x="631" y="903.2" font-size="10.6" font-weight="normal" fill="#262626" text-anchor="start" textLength="14.7" lengthAdjust="spacingAndGlyphs" font-family="Liberation Mono">40A</text>
<polyline points="612.5,908 653.7,908 653.7,918 612.5,918" fill="none" stroke="#444" stroke-width="1" stroke-linejoin="miter"/>
<rect x="630" y="911" width="23.7" height="7" fill="none" stroke="#444" stroke-width="1"/>
<rect x="632.7" y="914.4" width="15.3" height="8.1" fill="#fff" stroke="#333" stroke-width="1.1"/>
<line x1="634" y1="921.5" x2="646.5" y2="915.4" stroke="#444" stroke-width="1"/>
<path d="M637.5,907.8 L642.8,910.6 L637.5,913.4 Z" fill="#222"/>
<line x1="643" y1="907.6" x2="643" y2="913.6" stroke="#333" stroke-width="1"/>
<line x1="640.5" y1="922.5" x2="640.5" y2="945" stroke="#555" stroke-width="1"/>
<polyline points="612.5,929 647.2,929 647.2,937.8" fill="none" stroke="#555" stroke-width="1" stroke-linejoin="miter"/>
<circle cx="647.2" cy="939.8" r="1.8" fill="#fff" stroke="#444" stroke-width="1"/>
<line x1="612.5" y1="939.8" x2="634.3" y2="939.8" stroke="#555" stroke-width="1"/>
<circle cx="634.3" cy="939.8" r="1.9" fill="#111"/>
<line x1="634.3" y1="939.8" x2="648" y2="945.2" stroke="#333" stroke-width="1.4"/>
<rect x="620.6" y="948.4" width="27.9" height="13.4" fill="none" stroke="#444" stroke-width="1"/>
<text x="634.5" y="959.9" font-size="13.23" font-weight="normal" fill="#3a3a3a" text-anchor="middle" textLength="17.3" lengthAdjust="spacingAndGlyphs" font-family="Liberation Mono">232</text>
<rect x="0" y="1019.5" width="120" height="4.5" fill="#e6e6e6"/>
</svg>
</body></html>
